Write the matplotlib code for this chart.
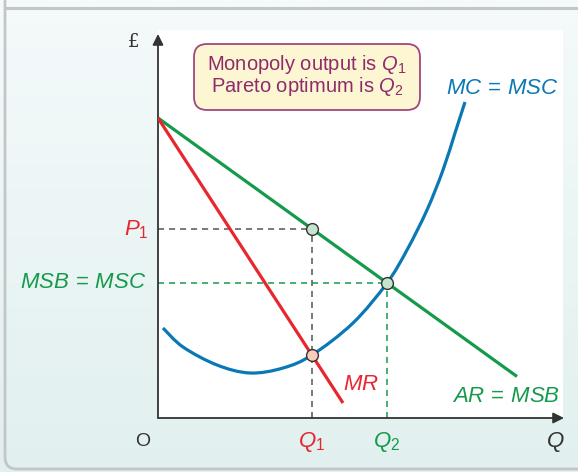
import numpy as np
import matplotlib
matplotlib.use("Agg")
import matplotlib.pyplot as plt
from matplotlib.patches import FancyBboxPatch, PathPatch
from matplotlib.path import Path

plt.rcParams['font.family'] = ['Liberation Sans', 'DejaVu Sans']
plt.rcParams['mathtext.fontset'] = 'custom'
plt.rcParams['mathtext.rm'] = 'Liberation Sans'
plt.rcParams['mathtext.it'] = 'Liberation Sans:italic'
plt.rcParams['mathtext.bf'] = 'Liberation Sans:bold'

# ---- data (1 unit = 10 px) ----
ar_x = [0.0, 35.9]
ar_y = [30.0, 4.15]
mr_x = [0.0, 18.5]
mr_y = [30.0, 1.5]
mc_x = [0.5, 2.5, 5.9, 9.2, 12.5, 15.4, 19.5, 22.9, 24.9, 26.9, 28.5, 29.7, 30.7]
mc_y = [9.0, 7.1, 5.3, 4.5, 5.0, 6.3, 9.5, 13.5, 16.8, 20.8, 24.8, 28.5, 31.6]
q1 = 15.4
q2 = 22.9
p1 = 18.9
msb_level = 13.5
mr_at_q1 = 6.3

RED = '#e8262e'
GREEN = '#159a4b'
BLUE = '#0b78b6'
DARK = '#333333'
PURPLE = '#8e2c6a'

W, H = 578, 472
fig = plt.figure(figsize=(W / 100, H / 100), dpi=100)

# background with gradient and frame (pixel coordinates)
bg = fig.add_axes([0, 0, 1, 1])
bg.set_xlim(0, W)
bg.set_ylim(H, 0)
bg.axis('off')
top_c = np.array([0xf5, 0xfa, 0xfb]) / 255
bot_c = np.array([0xe1, 0xf0, 0xef]) / 255
t = np.linspace(0, 1, 200)[:, None, None]
grad = top_c[None, None, :] * (1 - t) + bot_c[None, None, :] * t
bg.imshow(grad, extent=[0, W, H, 0], aspect='auto', zorder=0)
frame = Path([(5, 0), (5, 457), (5, 469), (17, 469), (W + 5, 469)],
             [Path.MOVETO, Path.LINETO, Path.CURVE3, Path.CURVE3, Path.LINETO])
bg.add_patch(PathPatch(frame, fill=False, edgecolor='#c3c6c8', lw=2.0, zorder=1))
bg.plot([5, W], [8, 8], color='#c3c6c8', lw=2.2, zorder=1, solid_capstyle='butt')

# main axes: x 158..563 px, y 30..418 px
ax = fig.add_axes([158 / W, (H - 418) / H, (563 - 158) / W, (418 - 30) / H])
ax.set_xlim(0, 40.5)
ax.set_ylim(0, 38.8)
ax.set_facecolor('white')
for s in ax.spines.values():
    s.set_visible(False)
ax.set_xticks([])
ax.set_yticks([])

# axes arrows
ax.annotate('', xy=(40.6, 0), xytext=(0, 0), annotation_clip=False,
            arrowprops=dict(arrowstyle='-|>', color=DARK, lw=1.3,
                            mutation_scale=16, shrinkA=0, shrinkB=0))
ax.annotate('', xy=(0, 38.4), xytext=(0, 0), annotation_clip=False,
            arrowprops=dict(arrowstyle='-|>', color=DARK, lw=1.3,
                            mutation_scale=16, shrinkA=0, shrinkB=0))

# dashed guides
dash = (0, (4, 3.2))
ax.plot([0, q1], [p1, p1], color='#555555', lw=1.1, linestyle=dash, zorder=2)
ax.plot([q1, q1], [0, p1], color='#555555', lw=1.1, linestyle=dash, zorder=2)
ax.plot([0, q2], [msb_level, msb_level], color=GREEN, lw=1.1, linestyle=dash, zorder=2)
ax.plot([q2, q2], [0, msb_level], color=GREEN, lw=1.1, linestyle=dash, zorder=2)


def smooth_path(xs, ys):
    """Smooth Bezier path passing through the given points (Catmull-Rom)."""
    pts = np.column_stack([xs, ys]).astype(float)
    n = len(pts)
    verts = [pts[0]]
    codes = [Path.MOVETO]
    for i in range(n - 1):
        p0 = pts[i - 1] if i > 0 else pts[i]
        p1_ = pts[i]
        p2 = pts[i + 1]
        p3 = pts[i + 2] if i + 2 < n else pts[i + 1]
        c1 = p1_ + (p2 - p0) / 6.0
        c2 = p2 - (p3 - p1_) / 6.0
        verts += [c1, c2, p2]
        codes += [Path.CURVE4] * 3
    return Path(verts, codes)


# curves
ax.add_patch(PathPatch(smooth_path(mc_x, mc_y), fill=False, edgecolor=BLUE,
                       lw=2.3, zorder=3, capstyle='butt'))
ax.plot(ar_x, ar_y, color=GREEN, lw=2.3, zorder=3, solid_capstyle='butt')
ax.plot(mr_x, mr_y, color=RED, lw=2.3, zorder=3, solid_capstyle='butt')

# points
ax.plot([q1, q2], [p1, msb_level], 'o', ms=8.5, mfc='#c6e4cd', mec=DARK, mew=1.0, zorder=5)
ax.plot([q1], [mr_at_q1], 'o', ms=8.5, mfc='#f9cdb9', mec=DARK, mew=1.0, zorder=5)

# labels
fs = 16
ax.text(-2.4, 37.6, '£', fontsize=13, color=DARK, ha='center', va='center',
        family='DejaVu Serif')
ax.text(-1.5, -2.3, 'O', fontsize=14, color=DARK, ha='center', va='center')
ax.text(39.7, -2.4, r'$Q$', fontsize=fs, color=DARK, ha='center', va='center')
ax.text(q1, -2.4, r'$Q_1$', fontsize=fs, color=RED, ha='center', va='center')
ax.text(q2, -2.4, r'$Q_2$', fontsize=fs, color=GREEN, ha='center', va='center')
ax.text(-0.9, p1 - 0.1, r'$P_1$', fontsize=fs, color=RED, ha='right', va='center')
ax.text(-1.2, msb_level, r'$MSB\,=\,MSC$', fontsize=fs, color=GREEN, ha='right', va='center')
ax.text(28.8, 33.0, r'$MC\,=\,MSC$', fontsize=fs, color=BLUE, ha='left', va='center')
ax.text(18.5, 3.3, r'$MR$', fontsize=fs, color=RED, ha='left', va='center')
ax.text(29.4, 2.1, r'$AR\,=\,MSB$', fontsize=fs, color=GREEN, ha='left', va='center')

# note box
box = FancyBboxPatch((3.6, 30.8), 22.6, 6.6,
                     boxstyle='round,pad=0,rounding_size=1.3',
                     facecolor='#fdf6d2', edgecolor='#a3457f', lw=1.3, zorder=4)
ax.add_patch(box)
ax.text(14.9, 35.3, r'Monopoly output is $Q_1$', fontsize=14.5, color=PURPLE,
        ha='center', va='center', zorder=6)
ax.text(14.9, 33.1, r'Pareto optimum is $Q_2$', fontsize=14.5, color=PURPLE,
        ha='center', va='center', zorder=6)

fig.savefig('out.png', dpi=100)
